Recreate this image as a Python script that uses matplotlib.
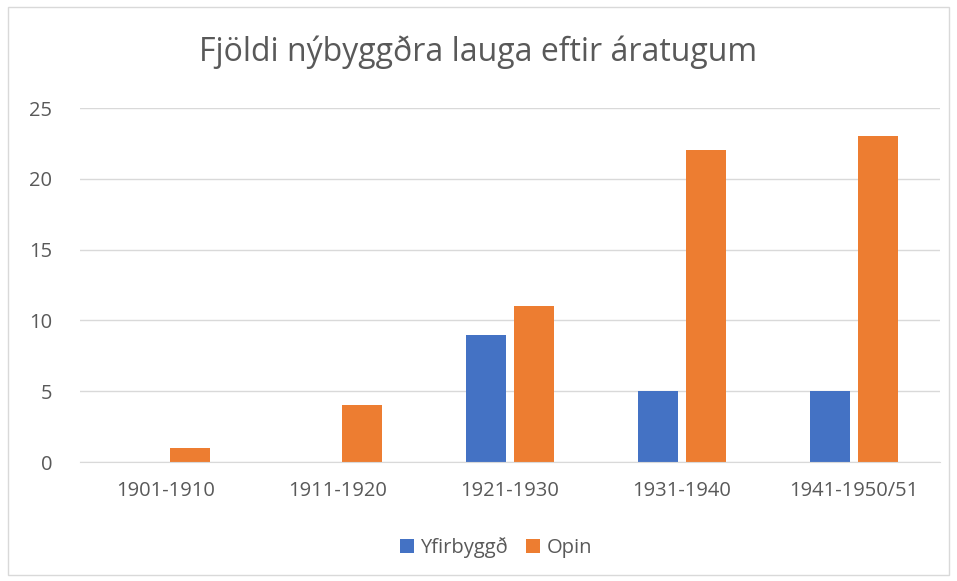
import matplotlib.pyplot as plt
import numpy as np

categories = ['1901-1910', '1911-1920', '1921-1930', '1931-1940', '1941-1950/51']
yfirbyggd = [0, 0, 9, 5, 5]
opin = [1, 4, 11, 22, 23]

plt.rcParams['font.family'] = ['Open Sans', 'DejaVu Sans']

fig = plt.figure(figsize=(9.57, 5.81), dpi=100)
ax = fig.add_axes([80 / 957, 1 - 462 / 581, 860 / 957, 354 / 581])

x = np.arange(len(categories))
w = 0.233
ax.bar(x - 0.142, yfirbyggd, w, color='#4472C4', label='Yfirbyggð')
ax.bar(x + 0.142, opin, w, color='#ED7D31', label='Opin')

ax.set_xlim(-0.5, len(categories) - 0.5)
ax.set_ylim(0, 25)
ax.set_yticks(range(0, 26, 5))
ax.set_xticks(x)
ax.set_xticklabels(categories)
ax.grid(axis='y', color='#D9D9D9', linewidth=1)
ax.set_axisbelow(True)
for s in ['top', 'right', 'left']:
    ax.spines[s].set_visible(False)
ax.spines['bottom'].set_color('#D9D9D9')
ax.tick_params(axis='both', length=0, colors='#595959', labelsize=14.5)
ax.tick_params(axis='x', pad=14)
ax.tick_params(axis='y', pad=20)

fig.text(0.5, 1 - 52 / 581, 'Fjöldi nýbyggðra lauga eftir áratugum', ha='center', va='center',
         fontsize=23, color='#595959')
fig.legend(loc='center', bbox_to_anchor=(496 / 957, 1 - 548 / 581), ncol=2, frameon=False,
           fontsize=14.5, labelcolor='#595959', handlelength=0.7, handleheight=0.7,
           columnspacing=0.9, handletextpad=0.3)

border = plt.Rectangle((8 / 957, 6 / 581), 941 / 957, 568 / 581, transform=fig.transFigure,
                       fill=False, edgecolor='#D9D9D9', linewidth=1)
fig.patches.append(border)

fig.savefig('out.png', dpi=100)
